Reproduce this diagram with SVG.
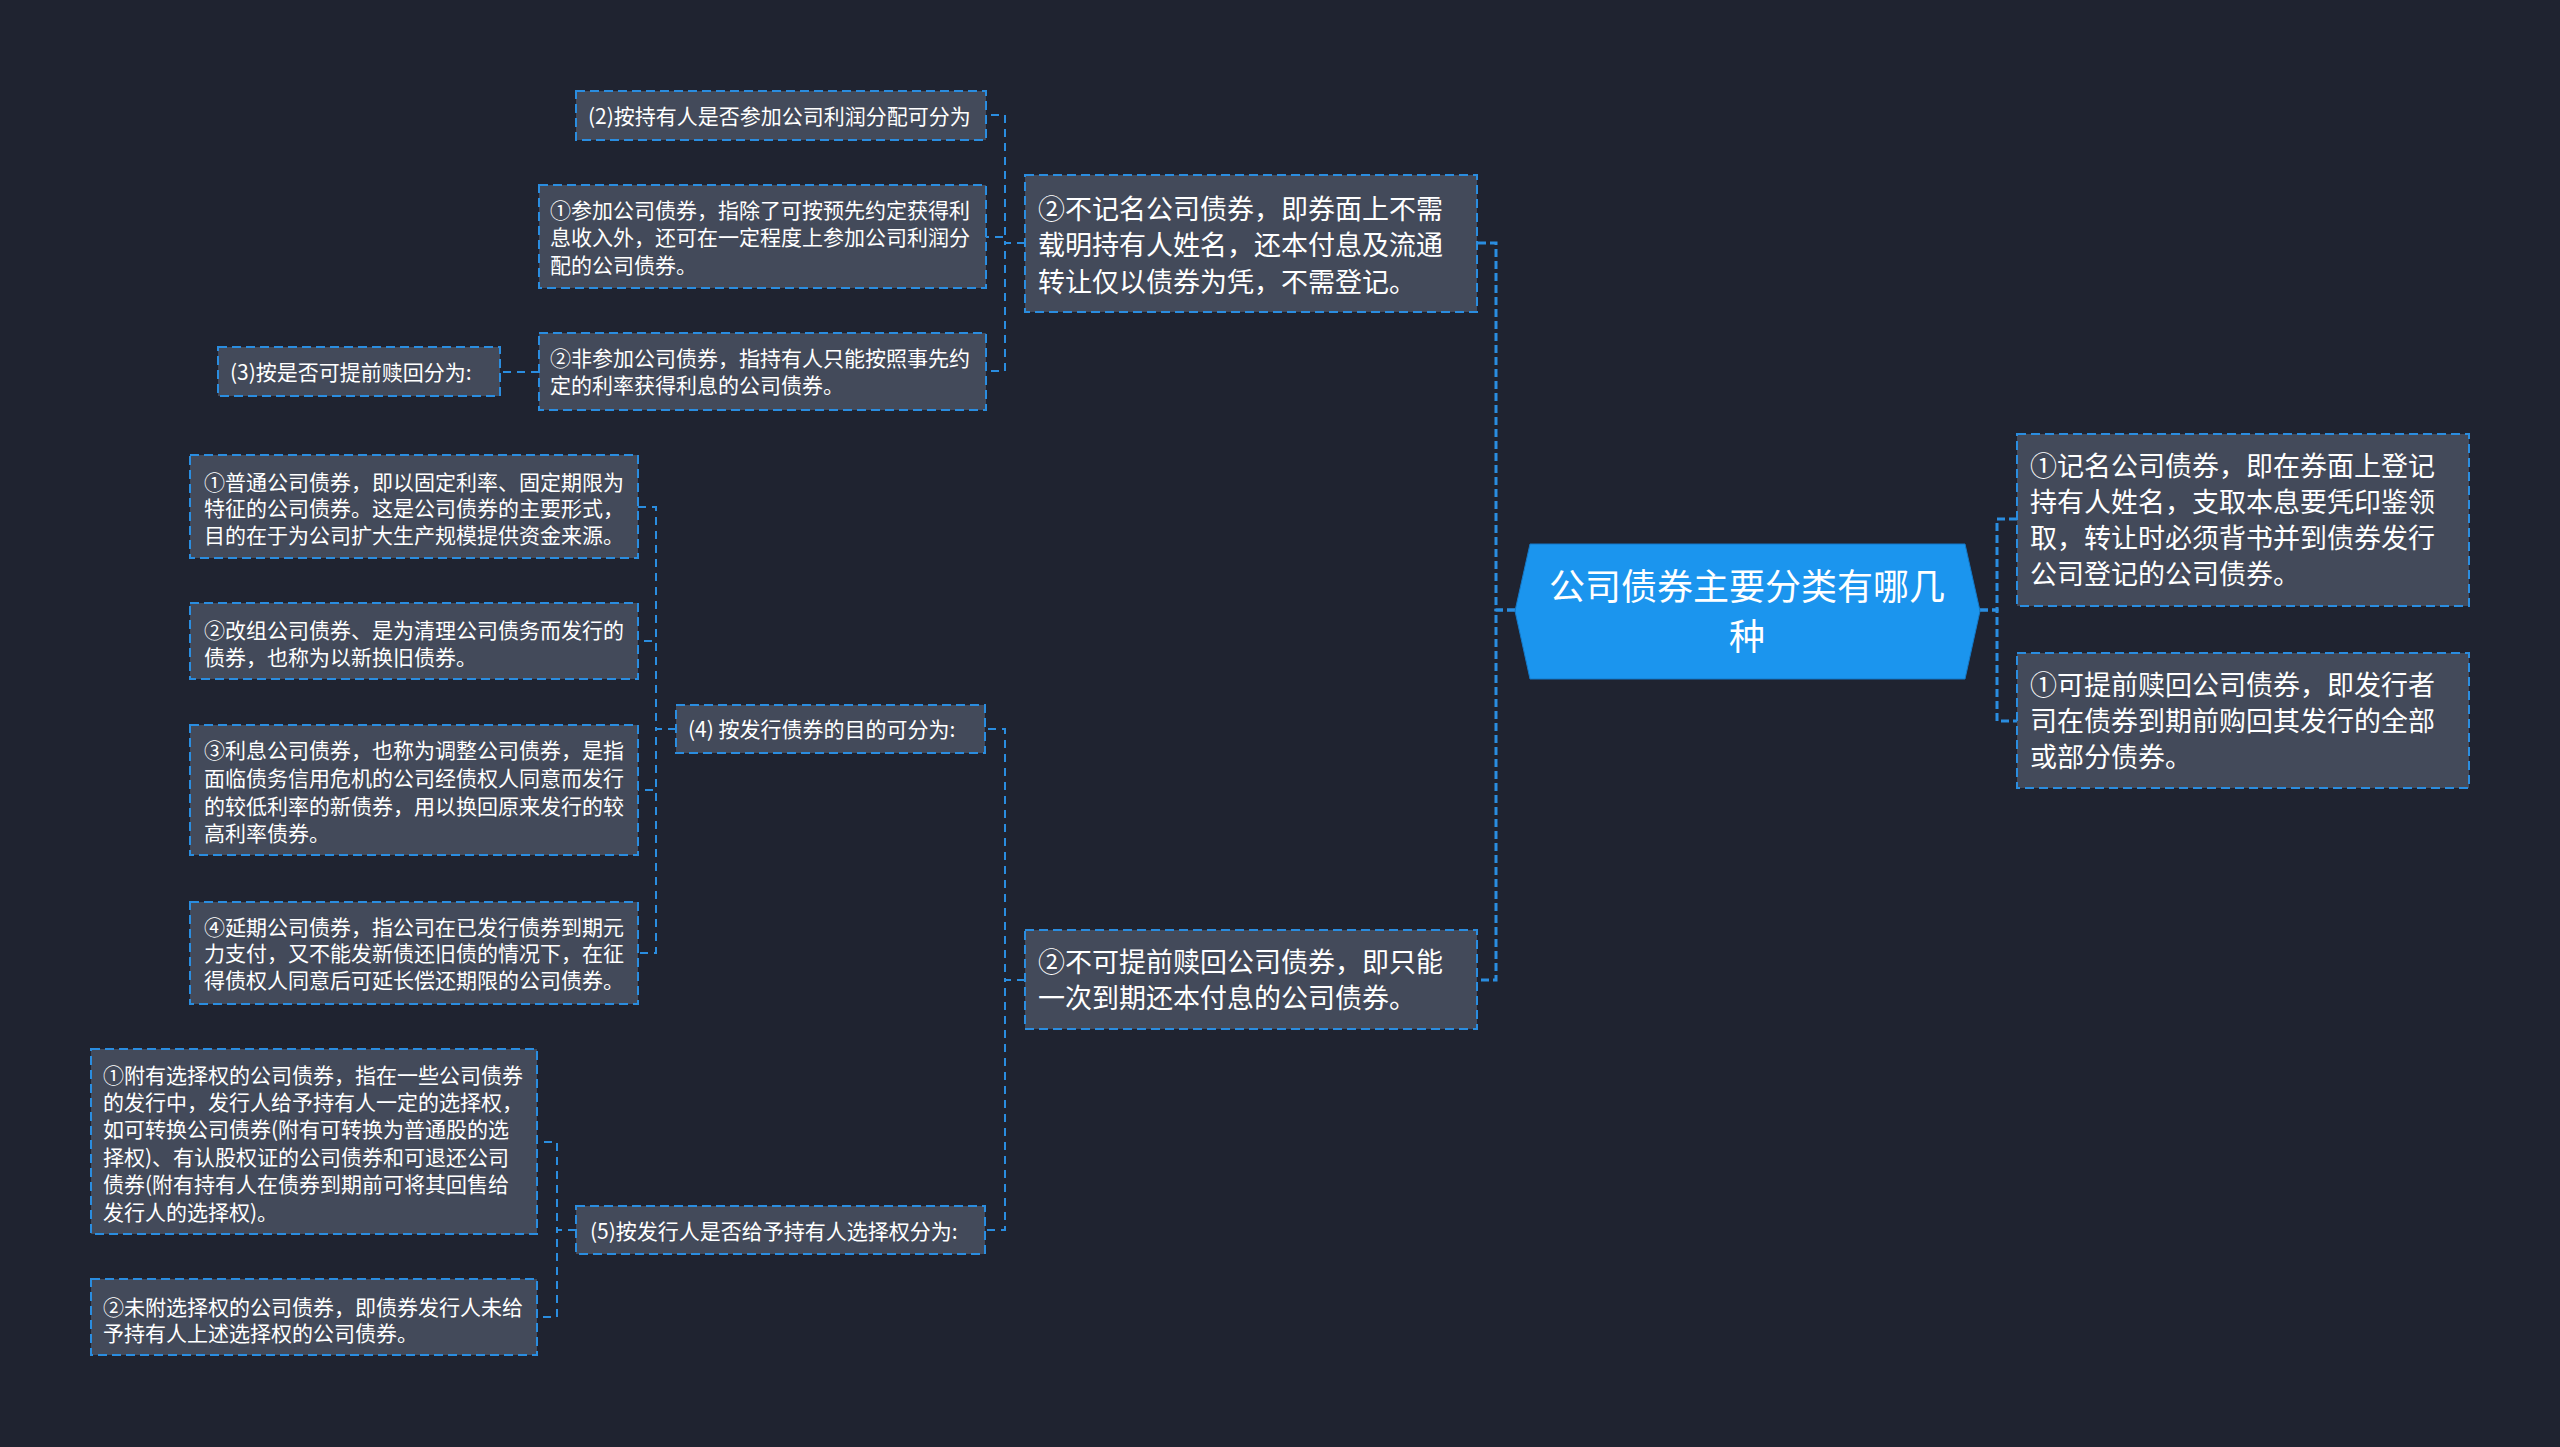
<svg xmlns="http://www.w3.org/2000/svg" width="2560" height="1447" viewBox="0 0 2560 1447">
<style>
.node rect{fill:#434a5a;stroke:#2a8de0;stroke-width:2;stroke-dasharray:9 5}
.t{fill:#ffffff;font-family:"Noto Sans CJK SC","Noto Sans",sans-serif}
.s{font-size:21px}
.m{font-size:27px}
.r{font-size:36px}
.link{fill:none;stroke:#2a8de0;stroke-width:2;stroke-dasharray:8 6}
.main{stroke-width:3;stroke-dasharray:8 4}
</style>
<rect x="0" y="0" width="2560" height="1447" fill="#1f2330"/>
<g id="connectors">
<path class="link main" d="M1980,610 H1997 V519 H2017"/>
<path class="link main" d="M1980,610 H1997 V721 H2017"/>
<path class="link main" d="M1515,610 H1496 V243 H1477"/>
<path class="link main" d="M1515,610 H1496 V980 H1477"/>
<path class="link" d="M1025,243 H1005 V115 H986"/>
<path class="link" d="M1025,243 H1005 V237 H986"/>
<path class="link" d="M1025,243 H1005 V371 H986"/>
<path class="link" d="M539,372 H500"/>
<path class="link" d="M1025,980 H1005 V729 H985"/>
<path class="link" d="M1025,980 H1005 V1230 H985"/>
<path class="link" d="M676,729 H656 V507 H638"/>
<path class="link" d="M676,729 H656 V641 H638"/>
<path class="link" d="M676,729 H656 V790 H638"/>
<path class="link" d="M676,729 H656 V953 H638"/>
<path class="link" d="M576,1230 H557 V1142 H537"/>
<path class="link" d="M576,1230 H557 V1317 H537"/>
</g>
<g id="root">
<polygon points="1515,611 1530,544 1965,544 1980,611 1965,679 1530,679" fill="#1b95ee" stroke="#1479c8" stroke-width="1"/>
<text class="t r" x="1747" y="600" text-anchor="middle">公司债券主要分类有哪几</text>
<text class="t r" x="1747" y="650" text-anchor="middle">种</text>
</g>
<g id="n-jiming" class="node">
<rect x="2017" y="434" width="452" height="172"/>
<text class="t m" x="2030" y="476">①记名公司债券，即在券面上登记</text>
<text class="t m" x="2030" y="512">持有人姓名，支取本息要凭印鉴领</text>
<text class="t m" x="2030" y="548">取，转让时必须背书并到债券发行</text>
<text class="t m" x="2030" y="584">公司登记的公司债券。</text>
</g>
<g id="n-ketiqian" class="node">
<rect x="2017" y="653" width="452" height="135"/>
<text class="t m" x="2030" y="695">①可提前赎回公司债券，即发行者</text>
<text class="t m" x="2030" y="731">司在债券到期前购回其发行的全部</text>
<text class="t m" x="2030" y="767">或部分债券。</text>
</g>
<g id="n-bujiming" class="node">
<rect x="1025" y="175" width="452" height="137"/>
<text class="t m" x="1038" y="219">②不记名公司债券，即券面上不需</text>
<text class="t m" x="1038" y="255">载明持有人姓名，还本付息及流通</text>
<text class="t m" x="1038" y="292">转让仅以债券为凭，不需登记。</text>
</g>
<g id="n-bukeqian" class="node">
<rect x="1025" y="930" width="452" height="99"/>
<text class="t m" x="1038" y="972">②不可提前赎回公司债券，即只能</text>
<text class="t m" x="1038" y="1008">一次到期还本付息的公司债券。</text>
</g>
<g id="n-fen2" class="node">
<rect x="576" y="91" width="410" height="49"/>
<text class="t s" x="588" y="124">(2)按持有人是否参加公司利润分配可分为</text>
</g>
<g id="n-canjia" class="node">
<rect x="539" y="185" width="447" height="103"/>
<text class="t s" x="550" y="218">①参加公司债券，指除了可按预先约定获得利</text>
<text class="t s" x="550" y="245">息收入外，还可在一定程度上参加公司利润分</text>
<text class="t s" x="550" y="273">配的公司债券。</text>
</g>
<g id="n-feicanjia" class="node">
<rect x="539" y="333" width="447" height="77"/>
<text class="t s" x="550" y="366">②非参加公司债券，指持有人只能按照事先约</text>
<text class="t s" x="550" y="393">定的利率获得利息的公司债券。</text>
</g>
<g id="n-fen3" class="node">
<rect x="218" y="347" width="282" height="49"/>
<text class="t s" x="230" y="380">(3)按是否可提前赎回分为:</text>
</g>
<g id="n-putong" class="node">
<rect x="190" y="455" width="448" height="103"/>
<text class="t s" x="204" y="490">①普通公司债券，即以固定利率、固定期限为</text>
<text class="t s" x="204" y="516">特征的公司债券。这是公司债券的主要形式，</text>
<text class="t s" x="204" y="543">目的在于为公司扩大生产规模提供资金来源。</text>
</g>
<g id="n-gaizu" class="node">
<rect x="190" y="603" width="448" height="76"/>
<text class="t s" x="204" y="638">②改组公司债券、是为清理公司债务而发行的</text>
<text class="t s" x="204" y="665">债券，也称为以新换旧债券。</text>
</g>
<g id="n-lixi" class="node">
<rect x="190" y="725" width="448" height="130"/>
<text class="t s" x="204" y="758">③利息公司债券，也称为调整公司债券，是指</text>
<text class="t s" x="204" y="786">面临债务信用危机的公司经债权人同意而发行</text>
<text class="t s" x="204" y="814">的较低利率的新债券，用以换回原来发行的较</text>
<text class="t s" x="204" y="841">高利率债券。</text>
</g>
<g id="n-yanqi" class="node">
<rect x="190" y="902" width="448" height="102"/>
<text class="t s" x="204" y="935">④延期公司债券，指公司在已发行债券到期元</text>
<text class="t s" x="204" y="961">力支付，又不能发新债还旧债的情况下，在征</text>
<text class="t s" x="204" y="988">得债权人同意后可延长偿还期限的公司债券。</text>
</g>
<g id="n-fen4" class="node">
<rect x="676" y="705" width="309" height="48"/>
<text class="t s" x="688" y="737">(4) 按发行债券的目的可分为:</text>
</g>
<g id="n-fuyou" class="node">
<rect x="91" y="1049" width="446" height="185"/>
<text class="t s" x="103" y="1083">①附有选择权的公司债券，指在一些公司债券</text>
<text class="t s" x="103" y="1110">的发行中，发行人给予持有人一定的选择权，</text>
<text class="t s" x="103" y="1137">如可转换公司债券(附有可转换为普通股的选</text>
<text class="t s" x="103" y="1165">择权)、有认股权证的公司债券和可退还公司</text>
<text class="t s" x="103" y="1192">债券(附有持有人在债券到期前可将其回售给</text>
<text class="t s" x="103" y="1220">发行人的选择权)。</text>
</g>
<g id="n-weifu" class="node">
<rect x="91" y="1279" width="446" height="76"/>
<text class="t s" x="103" y="1315">②未附选择权的公司债券，即债券发行人未给</text>
<text class="t s" x="103" y="1341">予持有人上述选择权的公司债券。</text>
</g>
<g id="n-fen5" class="node">
<rect x="576" y="1206" width="409" height="48"/>
<text class="t s" x="590" y="1239">(5)按发行人是否给予持有人选择权分为:</text>
</g>
</svg>
